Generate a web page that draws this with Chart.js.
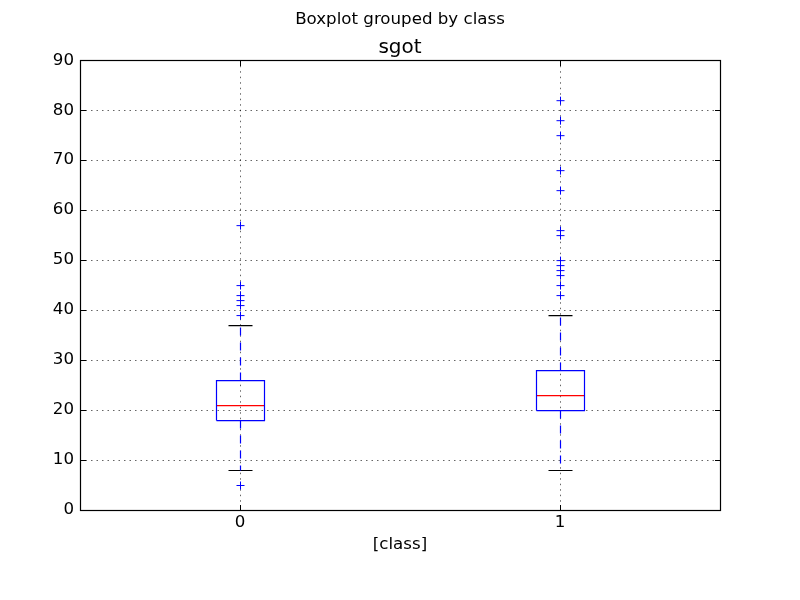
<!DOCTYPE html>
<html>
<head>
<meta charset="utf-8">
<script src="https://cdn.jsdelivr.net/npm/chart.js@4.4.1/dist/chart.umd.min.js"></script>
<style>
html,body{margin:0;padding:0;background:#fff;}
#wrap{width:800px;height:600px;}
</style>
</head>
<body>
<div id="wrap"><canvas id="c" width="800" height="600"></canvas></div>
<script>
// ---- data ----
const categories = ['0', '1'];
const q1 = [18, 20];
const q3 = [26, 28];
const medians = [21, 23];
const whiskerLow = [8, 8];
const whiskerHigh = [37, 39];
const outliers0 = [57, 45, 43, 42, 41, 39, 5];
const outliers1 = [82, 78, 75, 68, 64, 56, 55, 50, 49, 48, 47, 45, 43];
const outliers = [outliers0, outliers1];
const yTicks = [0, 10, 20, 30, 40, 50, 60, 70, 80, 90];

// ---- styles ----
const BOX_HALF = 0.075;
const CAP_HALF = 0.0375;
const BLUE = '#0000ff';
const FONT = "'DejaVu Sans', sans-serif";

const datasets = [];
categories.forEach((c, i) => {
  const x = i;
  datasets.push({ // box
    data: [{x: x - BOX_HALF, y: q1[i]}, {x: x + BOX_HALF, y: q1[i]}, {x: x + BOX_HALF, y: q3[i]}, {x: x - BOX_HALF, y: q3[i]}, {x: x - BOX_HALF, y: q1[i]}],
    showLine: true, borderColor: BLUE, borderWidth: 1.2, pointRadius: 0, fill: false, tension: 0
  });
  datasets.push({ // upper whisker
    data: [{x: x, y: q3[i]}, {x: x, y: whiskerHigh[i]}],
    showLine: true, borderColor: BLUE, borderWidth: 1.2, borderDash: [8, 7], pointRadius: 0
  });
  datasets.push({ // lower whisker
    data: [{x: x, y: q1[i]}, {x: x, y: whiskerLow[i]}],
    showLine: true, borderColor: BLUE, borderWidth: 1.2, borderDash: [8, 7], pointRadius: 0
  });
  datasets.push({ // upper cap
    data: [{x: x - CAP_HALF, y: whiskerHigh[i]}, {x: x + CAP_HALF, y: whiskerHigh[i]}],
    showLine: true, borderColor: '#000', borderWidth: 1.2, pointRadius: 0
  });
  datasets.push({ // lower cap
    data: [{x: x - CAP_HALF, y: whiskerLow[i]}, {x: x + CAP_HALF, y: whiskerLow[i]}],
    showLine: true, borderColor: '#000', borderWidth: 1.2, pointRadius: 0
  });
  datasets.push({ // median
    data: [{x: x - BOX_HALF, y: medians[i]}, {x: x + BOX_HALF, y: medians[i]}],
    showLine: true, borderColor: '#ff0000', borderWidth: 1.2, pointRadius: 0
  });
  datasets.push({ // outliers
    data: outliers[i].map(v => ({x: x, y: v})),
    showLine: false, pointStyle: 'cross', pointRadius: 4, pointBorderColor: BLUE, pointBorderWidth: 1, pointBackgroundColor: BLUE
  });
});

const crispPlugin = {
  id: 'crisp',
  beforeDatasetsDraw(chart) { chart.ctx.save(); chart.ctx.translate(0.5, 0.5); },
  afterDatasetsDraw(chart) { chart.ctx.restore(); }
};

const framePlugin = {
  id: 'frame',
  afterDraw(chart) {
    const {ctx, chartArea: a, scales} = chart;
    ctx.save();
    ctx.strokeStyle = '#000';
    ctx.lineWidth = 1.2;
    ctx.setLineDash([]);
    const L = Math.round(a.left) + 0.5, R = Math.round(a.right) + 0.5;
    const Tp = Math.round(a.top) + 0.5, B = Math.round(a.bottom) + 0.5;
    ctx.strokeRect(L, Tp, R - L, B - Tp);
    const T = 5.5;
    ctx.lineWidth = 1;
    ctx.beginPath();
    scales.y.ticks.forEach(t => {
      const y = Math.round(scales.y.getPixelForValue(t.value)) + 0.5;
      ctx.moveTo(L, y); ctx.lineTo(L + T, y);
      ctx.moveTo(R, y); ctx.lineTo(R - T, y);
    });
    scales.x.ticks.forEach(t => {
      const x = Math.round(scales.x.getPixelForValue(t.value)) + 0.5;
      ctx.moveTo(x, B); ctx.lineTo(x, B - T);
      ctx.moveTo(x, Tp); ctx.lineTo(x, Tp + T);
    });
    ctx.stroke();
    ctx.restore();
  }
};

new Chart(document.getElementById('c'), {
  type: 'scatter',
  data: { datasets },
  plugins: [crispPlugin, framePlugin],
  options: {
    responsive: false,
    animation: false,
    devicePixelRatio: 1,
    layout: { padding: 0 },
    plugins: {
      legend: { display: false },
      tooltip: { enabled: false },
      title: { display: true, text: 'Boxplot grouped by class', color: '#000',
        font: { family: FONT, size: 16.67, weight: 'normal' }, padding: { top: 9.5, bottom: 6.5 } },
      subtitle: { display: true, text: 'sgot', color: '#000',
        font: { family: FONT, size: 20, weight: 'normal' }, padding: { top: 0, bottom: 0.2 } }
    },
    scales: {
      x: {
        type: 'linear', min: -0.5, max: 1.5,
        afterBuildTicks(s) { s.ticks = categories.map((c, i) => ({ value: i })); },
        afterFit(s) { s.height = 90; },
        ticks: { color: '#000', font: { family: FONT, size: 16.67 }, padding: 3,
          callback: (v) => categories[Math.round(v)] },
        grid: { color: 'rgba(0,0,0,0.6)', lineWidth: 1, drawTicks: false },
        border: { display: false, dash: [1.5, 4] },
        title: { display: true, text: '[class]', color: '#000',
          font: { family: FONT, size: 16.67 }, padding: { top: 0, bottom: 45.8 } }
      },
      y: {
        type: 'linear', min: 0, max: 90,
        afterBuildTicks(s) { s.ticks = yTicks.map(v => ({ value: v })); },
        afterFit(s) { s.width = 80; },
        ticks: { color: '#000', font: { family: FONT, size: 16.67 }, padding: 6 },
        grid: { color: 'rgba(0,0,0,0.6)', lineWidth: 1, drawTicks: false },
        border: { display: false, dash: [1.5, 4] }
      },
      yR: {
        type: 'linear', position: 'right', min: 0, max: 90,
        afterFit(s) { s.width = 80; },
        ticks: { display: false },
        grid: { display: false, drawTicks: false },
        border: { display: false }
      }
    }
  }
});
</script>
</body>
</html>
